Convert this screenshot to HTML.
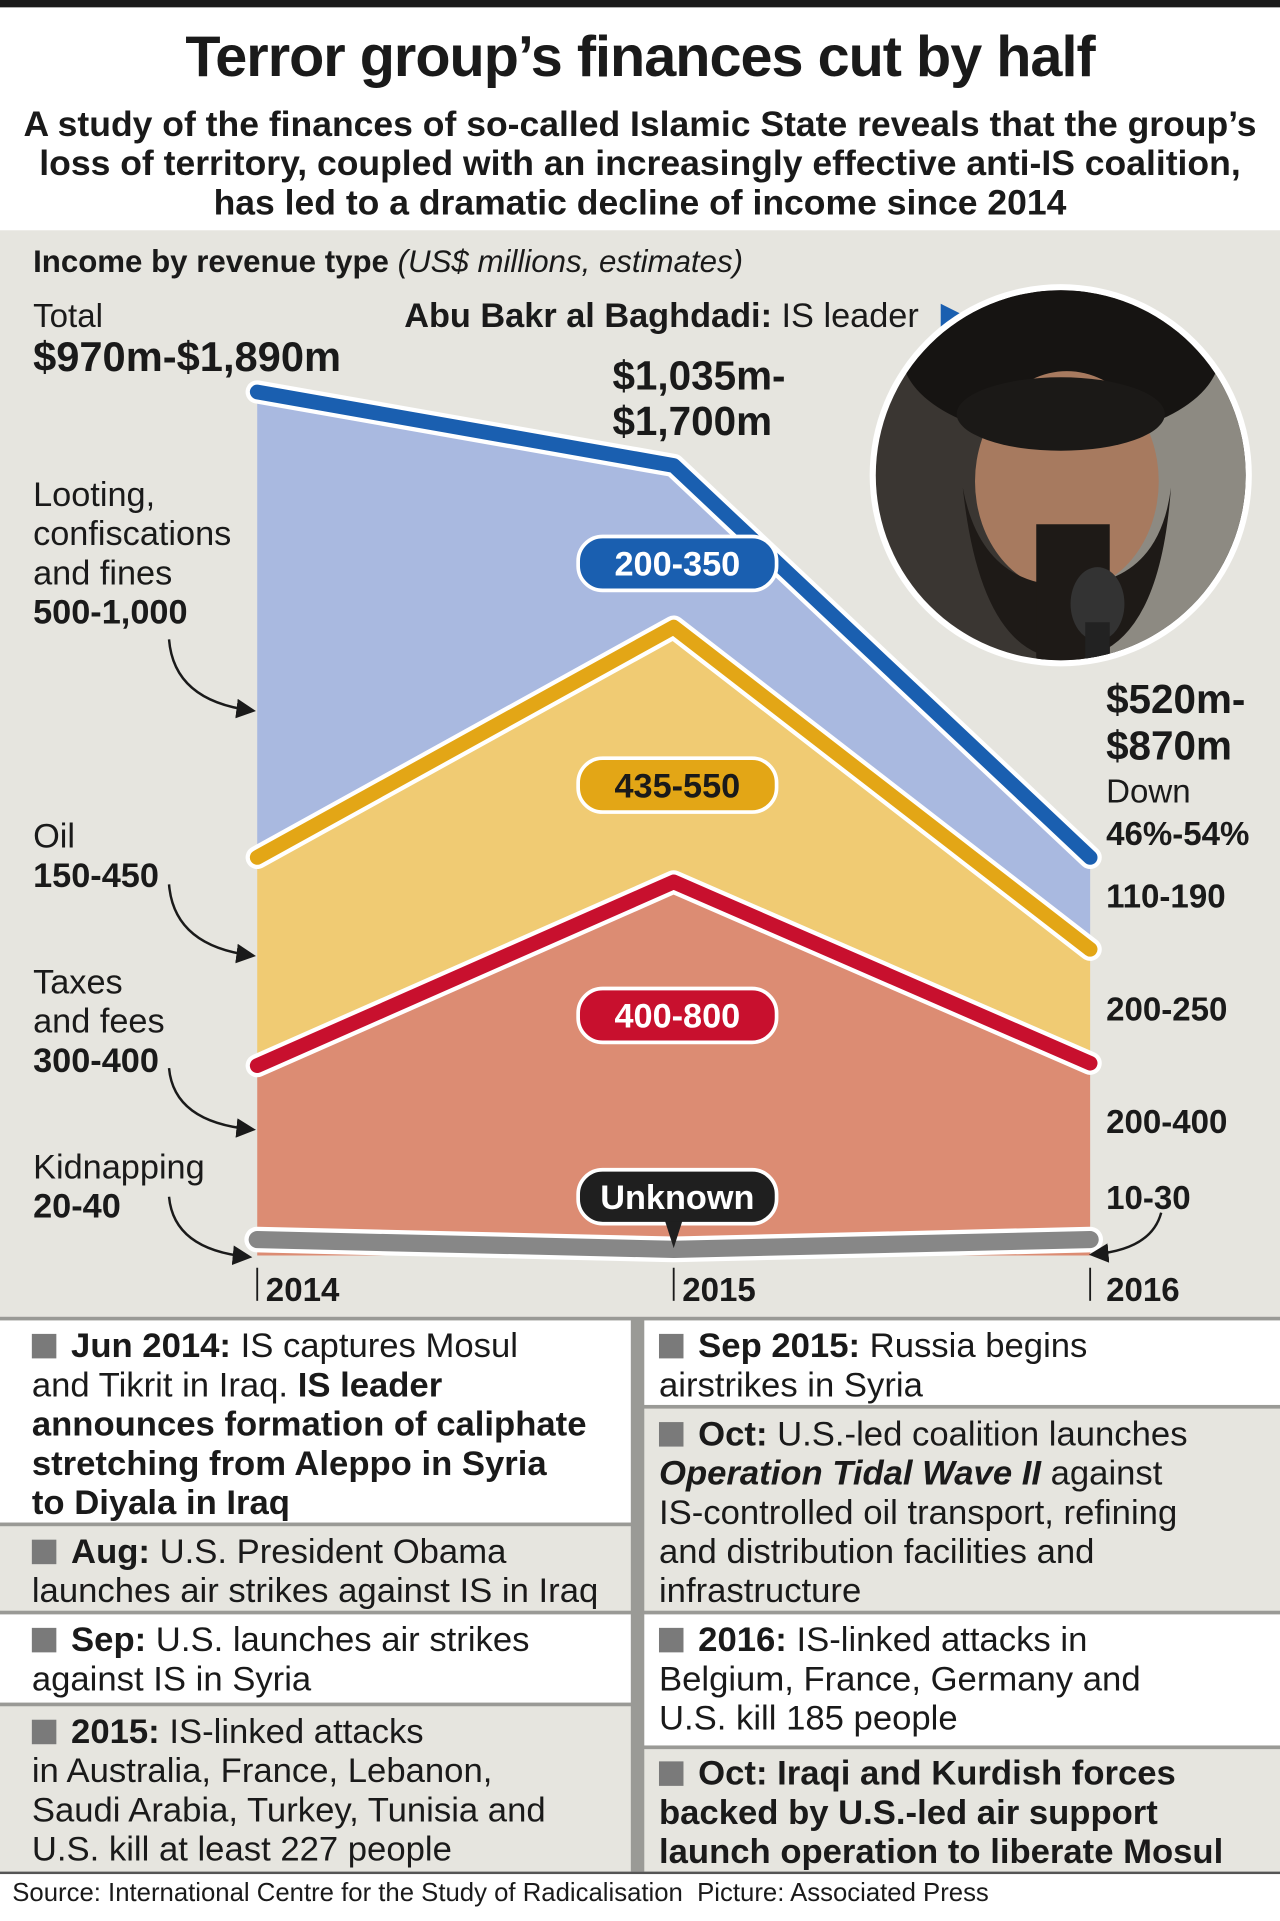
<!DOCTYPE html>
<html><head><meta charset="utf-8">
<style>
html,body{margin:0;padding:0;width:1280px;height:1920px;overflow:hidden;background:#fff}
#wrap{position:absolute;left:0;top:0;width:1045px;height:1568px;transform:scale(1.22488);transform-origin:0 0;font-family:"Liberation Sans Narrow","Liberation Sans",sans-serif;color:#1a1a1a}
.t{position:absolute;white-space:nowrap;line-height:1}
.b{font-weight:bold}
.box{position:absolute;box-sizing:border-box;padding:4px 0 0 26px;font-size:28.3px;line-height:32px;white-space:nowrap}
.sq{display:inline-block;width:20px;height:20px;background:#7a7a7a;margin-right:12px;vertical-align:-1px}
</style></head><body>
<div id="wrap">
<div style="position:absolute;left:0;top:0;width:1045px;height:6px;background:#1a1a1a"></div>
<div class="t b" style="left:0;width:1045px;text-align:center;top:22px;font-size:47px;letter-spacing:-0.8px">Terror group’s finances cut by half</div>
<div style="position:absolute;left:0;width:1045px;top:86px;text-align:center;font-family:'Liberation Sans',sans-serif;font-weight:bold;font-size:29px;line-height:32px;white-space:nowrap">A study of the finances of so-called Islamic State reveals that the group’s<br>loss of territory, coupled with an increasingly effective anti-IS coalition,<br>has led to a dramatic decline of income since 2014</div>
<div style="position:absolute;left:0;top:188px;width:1045px;height:887px;background:#e6e5df"></div>

<svg id="chart" width="1045" height="1568" style="position:absolute;left:0;top:0">
<defs><marker id="ah" markerWidth="8" markerHeight="8" refX="6" refY="4" orient="auto"><path d="M0,0 L8,4 L0,8 Z" fill="#1a1a1a"/></marker></defs>
<g id="areas"></g><g id="lines"></g>
</svg>

<div class="t b" style="left:27px;top:202px;font-family:'Liberation Sans',sans-serif;font-size:25.5px">Income by revenue type <span style="font-weight:normal;font-style:italic">(US$ millions, estimates)</span></div>
<div class="t" style="left:27px;top:245px;font-size:27px">Total</div>
<div class="t b" style="left:27px;top:275px;font-size:34px">$970m-$1,890m</div>
<div class="t" style="left:330px;top:244px;font-size:28px"><b>Abu Bakr al Baghdadi:</b> IS leader</div>
<svg style="position:absolute;left:766px;top:246px" width="26" height="26"><path d="M2,2 L24,13 L2,24 Z" fill="#1a5fb0"/></svg>
<div class="t b" style="left:500px;top:288px;font-size:33px;line-height:37px">$1,035m-<br>$1,700m</div>
<div class="t" style="left:27px;top:388px;font-size:28px;line-height:32px">Looting,<br>confiscations<br>and fines<br><b>500-1,000</b></div>
<div class="t" style="left:27px;top:667px;font-size:28px;line-height:32px">Oil<br><b>150-450</b></div>
<div class="t" style="left:27px;top:786px;font-size:28px;line-height:32px">Taxes<br>and fees<br><b>300-400</b></div>
<div class="t" style="left:27px;top:937px;font-size:28px;line-height:32px">Kidnapping<br><b>20-40</b></div>
<div class="t" style="left:903px;top:553px;font-size:27px;line-height:35px"><b style="font-size:33px">$520m-<br>$870m</b><br><span style="line-height:32px">Down</span><br><b>46%-54%</b></div>
<div class="t b" style="left:903px;top:719px;font-size:27px">110-190</div>
<div class="t b" style="left:903px;top:811px;font-size:27px">200-250</div>
<div class="t b" style="left:903px;top:903px;font-size:27px">200-400</div>
<div class="t b" style="left:903px;top:965px;font-size:27px">10-30</div>
<div class="t b" style="left:217px;top:1040px;font-size:27px">2014</div>
<div class="t b" style="left:557px;top:1040px;font-size:27px">2015</div>
<div class="t b" style="left:903px;top:1040px;font-size:27px">2016</div>

<svg style="position:absolute;left:706px;top:228px" width="320" height="320">
<circle cx="160" cy="160" r="156" fill="#fff"/>
<clipPath id="cp"><circle cx="160" cy="160" r="151"/></clipPath>
<g clip-path="url(#cp)">
<rect width="320" height="320" fill="#3a3632"/>
<rect x="200" y="0" width="120" height="320" fill="#8d8a82"/>
<ellipse cx="160" cy="60" rx="130" ry="70" fill="#161412"/>
<ellipse cx="165" cy="165" rx="75" ry="90" fill="#a77a5f"/>
<ellipse cx="160" cy="110" rx="85" ry="30" fill="#1b1917"/>
<path d="M80,170 Q95,310 165,310 Q240,310 250,170 Q240,250 165,250 Q95,250 80,170Z" fill="#1e1a17"/>
<rect x="140" y="200" width="60" height="120" fill="#1e1a17"/>
<ellipse cx="190" cy="265" rx="22" ry="30" fill="#333" /><rect x="180" y="280" width="20" height="40" fill="#222"/>
</g></svg>

<div style="position:absolute;left:0;top:1075px;width:1045px;height:453px;background:#9a9a96">
<div class="box" style="left:0;top:3px;width:515px;height:165px;background:#fff"><span class="sq"></span><b>Jun 2014:</b> IS captures Mosul<br>and Tikrit in Iraq. <b>IS leader<br>announces formation of caliphate<br>stretching from Aleppo in Syria<br>to Diyala in Iraq</b></div>
<div class="box" style="left:0;top:171px;width:515px;height:69px;background:#e6e5df"><span class="sq"></span><b>Aug:</b> U.S. President Obama<br>launches air strikes against IS in Iraq</div>
<div class="box" style="left:0;top:243px;width:515px;height:72px;background:#fff"><span class="sq"></span><b>Sep:</b> U.S. launches air strikes<br>against IS in Syria</div>
<div class="box" style="left:0;top:318px;width:515px;height:135px;background:#e6e5df"><span class="sq"></span><b>2015:</b> IS-linked attacks<br>in Australia, France, Lebanon,<br>Saudi Arabia, Turkey, Tunisia and<br>U.S. kill at least 227 people</div>
<div class="box" style="left:526px;top:3px;width:519px;height:69px;background:#fff;padding-left:12px"><span class="sq"></span><b>Sep 2015:</b> Russia begins<br>airstrikes in Syria</div>
<div class="box" style="left:526px;top:75px;width:519px;height:165px;background:#e6e5df;padding-left:12px"><span class="sq"></span><b>Oct:</b> U.S.-led coalition launches<br><b><i>Operation Tidal Wave II</i></b> against<br>IS-controlled oil transport, refining<br>and distribution facilities and<br>infrastructure</div>
<div class="box" style="left:526px;top:243px;width:519px;height:107px;background:#fff;padding-left:12px"><span class="sq"></span><b>2016:</b> IS-linked attacks in<br>Belgium, France, Germany and<br>U.S. kill 185 people</div>
<div class="box b" style="left:526px;top:353px;width:519px;height:100px;background:#e6e5df;padding-left:12px;padding-top:3px"><span class="sq"></span>Oct: Iraqi and Kurdish forces<br>backed by U.S.-led air support<br>launch operation to liberate Mosul</div>
</div>
<div style="position:absolute;left:0;top:1528px;width:1045px;height:2px;background:#555"></div>
<div class="t" style="left:10px;top:1535px;font-family:'Liberation Sans',sans-serif;font-size:21px">Source: International Centre for the Study of Radicalisation&nbsp; Picture: Associated Press</div>
</div>

<script>
const years = ["2014","2015","2016"];
const kidnapping = [26, 10, 26];
const taxes = [284, 600, 288];
const oil = [340, 416, 186];
const looting = [760, 264, 150];
const pillLabels = ["200-350","435-550","400-800","Unknown"];

const NS = "http://www.w3.org/2000/svg";
function xPos(i){ return 210 + i * 340; }
function yPos(v){ return 1025 - v * 0.5; }
const c1 = kidnapping.map((v,i)=>v);
const c2 = c1.map((v,i)=>v+taxes[i]);
const c3 = c2.map((v,i)=>v+oil[i]);
const c4 = c3.map((v,i)=>v+looting[i]);
function pts(arr){ return arr.map((v,i)=>xPos(i)+","+yPos(v)); }
function areaPath(lo, hi){
  const top = pts(hi), bot = pts(lo).reverse();
  return "M" + top.join(" L") + " L" + bot.join(" L") + " Z";
}
const areas = document.getElementById("areas");
const lines = document.getElementById("lines");
const layerDefs = [
  {lo:c1.map(()=>0), hi:c2, fill:"#dc8c73", name:"taxes"},
  {lo:c2, hi:c3, fill:"#f0cb73", name:"oil"},
  {lo:c3, hi:c4, fill:"#a9b9e0", name:"looting"}
];
layerDefs.forEach(d=>{
  const p = document.createElementNS(NS,"path");
  p.setAttribute("d", areaPath(d.lo, d.hi));
  p.setAttribute("fill", d.fill);
  
  
  areas.appendChild(p);
});
function drawLine(arr, color, name, w){
  const d = "M" + pts(arr).join(" L");
  const o = document.createElementNS(NS,"path");
  o.setAttribute("d", d); o.setAttribute("fill","none"); o.setAttribute("stroke","#fff");
  o.setAttribute("stroke-width", w+7); o.setAttribute("stroke-linecap","round"); o.setAttribute("stroke-linejoin","round");
  
  
  lines.appendChild(o);
  const l = document.createElementNS(NS,"path");
  l.setAttribute("d", d); l.setAttribute("fill","none"); l.setAttribute("stroke",color);
  l.setAttribute("stroke-width", w); l.setAttribute("stroke-linecap","round"); l.setAttribute("stroke-linejoin","round");
  
  
  lines.appendChild(l);
}
drawLine(c1, "#878787", "kidnapping", 14);
drawLine(c2, "#c8102e", "taxes", 12);
drawLine(c3, "#e3a616", "oil", 12);
drawLine(c4, "#1a5fb0", "looting", 12);

years.forEach((y,i)=>{
  const t = document.createElementNS(NS,"line");
  t.setAttribute("x1",xPos(i)); t.setAttribute("x2",xPos(i));
  t.setAttribute("y1",1035); t.setAttribute("y2",1062);
  t.setAttribute("stroke","#1a1a1a"); t.setAttribute("stroke-width",1.5);
  
  
  lines.appendChild(t);
});
const arrowPaths = ["M138,522 Q142,572 205,580","M138,722 Q142,772 205,780","M138,872 Q142,916 205,922","M138,977 Q142,1020 202,1026","M948,990 Q940,1020 893,1024"];
arrowPaths.forEach((d,i)=>{
  const a = document.createElementNS(NS,"path");
  a.setAttribute("d", d); a.setAttribute("fill","none"); a.setAttribute("stroke","#1a1a1a");
  a.setAttribute("stroke-width",2); a.setAttribute("marker-end","url(#ah)");
  
  
  lines.appendChild(a);
});
const pillColors = [["#1a5fb0","#fff"],["#e3a616","#1a1a1a"],["#c8102e","#fff"],["#1f1f1f","#fff"]];
const pillY = [460, 641, 829, 977];
pillLabels.forEach((lab,i)=>{
  const g = document.createElementNS(NS,"g");
  
  
  const cx = xPos(1)+3, cy = pillY[i], w = 162, h = 44;
  const r = document.createElementNS(NS,"rect");
  r.setAttribute("x",cx-w/2); r.setAttribute("y",cy-h/2); r.setAttribute("width",w); r.setAttribute("height",h);
  r.setAttribute("rx",20); r.setAttribute("fill",pillColors[i][0]); r.setAttribute("stroke","#fff"); r.setAttribute("stroke-width",3);
  g.appendChild(r);
  if(i===3){
    const tri = document.createElementNS(NS,"path");
    tri.setAttribute("d",`M${cx-10},${cy+h/2-2} L${cx-3},${cy+h/2+20} L${cx+4},${cy+h/2-2} Z`);
    tri.setAttribute("fill","#1f1f1f");
    g.appendChild(tri);
  }
  const t = document.createElementNS(NS,"text");
  t.setAttribute("x",cx); t.setAttribute("y",cy+10); t.setAttribute("text-anchor","middle");
  t.setAttribute("font-family","'Liberation Sans Narrow','Liberation Sans',sans-serif");
  t.setAttribute("font-weight","bold"); t.setAttribute("font-size","28"); t.setAttribute("fill",pillColors[i][1]);
  t.textContent = lab;
  g.appendChild(t);
  lines.appendChild(g);
});
</script>
</body></html>
